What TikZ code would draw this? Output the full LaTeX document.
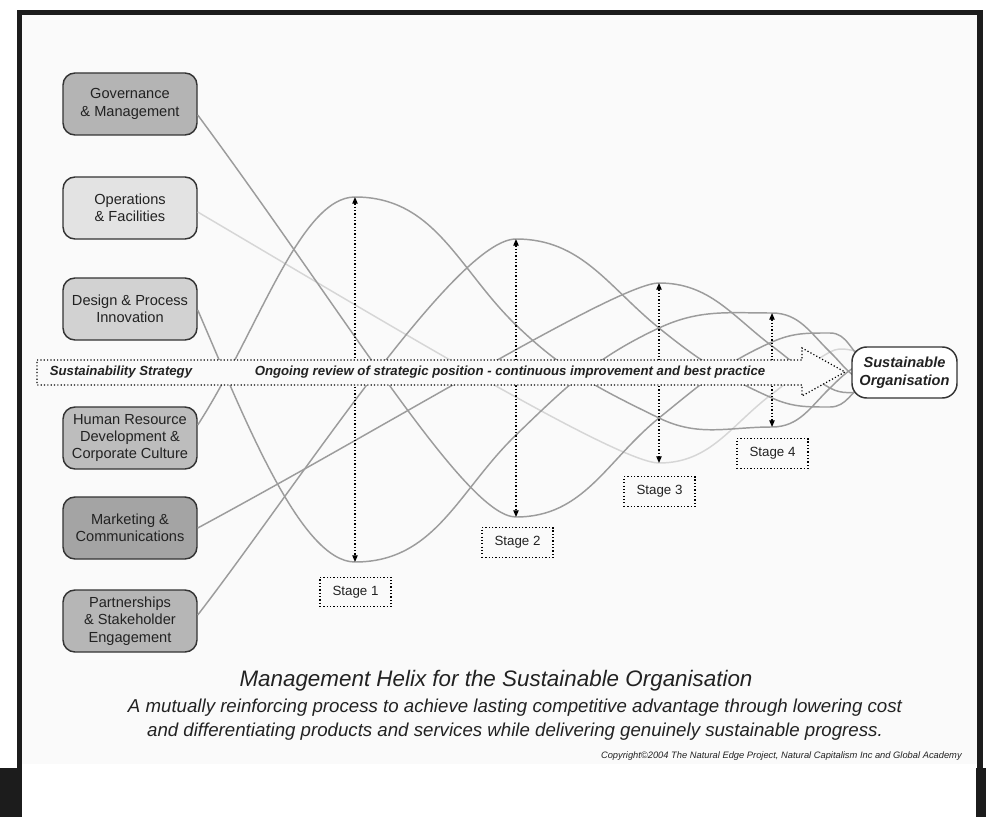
\documentclass[tikz,border=0pt]{standalone}
\usepackage{fontspec}
\setmainfont{Liberation Sans}
\usetikzlibrary{arrows.meta,calc}
\definecolor{framec}{HTML}{1C1C1C}
\definecolor{bgc}{HTML}{FAFAFA}
\definecolor{govc}{HTML}{B4B4B4}
\definecolor{opsc}{HTML}{E3E3E3}
\definecolor{desc}{HTML}{D2D2D2}
\definecolor{hrc}{HTML}{BDBDBD}
\definecolor{mktc}{HTML}{A4A4A4}
\definecolor{partc}{HTML}{B6B6B6}
\definecolor{boxborder}{HTML}{333333}
\definecolor{strandc}{HTML}{9C9C9C}
\definecolor{strandl}{HTML}{D6D6D6}
\definecolor{txt}{HTML}{222222}
\begin{document}
\begin{tikzpicture}[x=0.75pt,y=-0.75pt,
  lbox/.style={draw=boxborder, line width=1.1pt, rounded corners=9pt,
    minimum width=100.5pt, minimum height=46.5pt, align=center, inner sep=1pt,
    text=txt, font=\fontsize{10.95}{13.1}\selectfont},
  strand/.style={draw=strandc, line width=1.1pt},
  lightstrand/.style={draw=strandl, line width=1.1pt},
  dotline/.style={line width=0.9pt, dash pattern=on 0.9pt off 1.6pt},
  stagearrow/.style={dotline, {Triangle[length=5pt,width=4pt]}-{Triangle[length=5pt,width=4pt]}},
  stagebox/.style={draw, dotline, minimum width=53.25pt, minimum height=22pt,
    text=txt, font=\fontsize{10}{11}\selectfont},
  bandtxt/.style={text=txt, font=\fontsize{9.9}{11}\selectfont\bfseries\itshape, inner sep=0pt},
  sobox/.style={draw=boxborder, fill=white, line width=1.1pt, rounded corners=11pt,
    minimum width=78.75pt, minimum height=38.25pt, align=center, inner sep=1pt,
    text=txt, font=\fontsize{10.95}{13.3}\selectfont\bfseries\itshape}]
\useasboundingbox (0,0) rectangle (986,817);
% background and frame
\fill[white] (0,0) rectangle (986,817);
\fill[bgc] (22,15) rectangle (977,764);
\fill[framec] (17,10) rectangle (983,15);
\fill[framec] (17,10) rectangle (22,768);
\fill[framec] (977,10) rectangle (983,768);
\fill[framec] (0,768) rectangle (22,817);
\fill[framec] (976,768) rectangle (986,817);

% left boxes
\node[lbox, fill=govc] (gov) at (130,104) {Governance\\\& Management};
\node[lbox, fill=opsc] (ops) at (130,208) {Operations\\\& Facilities};
\node[lbox, fill=desc] (des) at (130,309) {Design \& Process\\Innovation};
\node[lbox, fill=hrc] (hr) at (130,438) {Human Resource\\Development \&\\Corporate Culture};
\node[lbox, fill=mktc] (mkt) at (130,528) {Marketing \&\\Communications};
\node[lbox, fill=partc] (part) at (130,621) {Partnerships\\\& Stakeholder\\Engagement};

% helix points
\coordinate (h1) at (355,197); \coordinate (h2) at (516,325); \coordinate (h3) at (659,418);
\coordinate (h4) at (772,427); \coordinate (h5) at (830,388); \coordinate (h6) at (866,362);
\coordinate (d1) at (355,562); \coordinate (d2) at (516,435); \coordinate (d3) at (659,328);
\coordinate (d4) at (772,313); \coordinate (d5) at (830,352); \coordinate (d6) at (866,382);
\coordinate (p2) at (516,239); \coordinate (p3) at (659,328); \coordinate (p4) at (772,398);
\coordinate (p5) at (830,407); \coordinate (p6) at (866,382);
\coordinate (g2) at (516,517); \coordinate (g3) at (659,418); \coordinate (g4) at (772,342);
\coordinate (g5) at (830,333); \coordinate (g6) at (866,362);
\coordinate (m3) at (659,283); \coordinate (m4) at (772,346); \coordinate (m5) at (830,388);
\coordinate (m6) at (866,392);
\coordinate (o3) at (659,463); \coordinate (o4) at (772,394); \coordinate (o5) at (830,352);
\coordinate (o6) at (866,352);

% strands
\draw[lightstrand] ($(ops.east)+(0,4)$) .. controls +(200,118) and +(-40,0) .. (o3)
  to[out=0,in=217] (o4) to[out=37,in=209] (o5) to[out=29,in=180] (o6);
\draw[strand] ($(gov.east)+(0,11)$) .. controls +(150,203) and +(-50,0) .. (g2)
  to[out=0,in=219] (g3) to[out=39,in=204] (g4) to[out=24,in=180] (g5) to[out=0,in=150] (g6);
\draw[strand] ($(des.east)+(0,1)$) .. controls +(45,104) and +(-55,0) .. (d1)
  to[out=0,in=224] (d2) to[out=44,in=205] (d3) to[out=25,in=180] (d4)
  to[out=0,in=136] (d5) to[out=-44,in=160] (d6);
\draw[strand] ($(hr.east)+(0,-13)$) .. controls +(60,-93) and +(-55,0) .. (h1)
  to[out=0,in=136] (h2) to[out=-44,in=154] (h3) to[out=-26,in=180] (h4)
  to[out=0,in=224] (h5) to[out=44,in=200] (h6);
\draw[strand] (mkt.east) .. controls +(200,-108) and +(-40,0) .. (m3)
  to[out=0,in=143] (m4) to[out=-37,in=151] (m5) to[out=-29,in=180] (m6);
\draw[strand] ($(part.east)+(0,-6)$) .. controls +(100,-130) and +(-60,0) .. (p2)
  to[out=0,in=141] (p3) to[out=-39,in=156] (p4) to[out=-24,in=180] (p5) to[out=0,in=210] (p6);

% stage arrows
\draw[stagearrow] (h1) -- (d1);
\draw[stagearrow] (p2) -- (g2);
\draw[stagearrow] (m3) -- (o3);
\draw[stagearrow] (d4) -- (h4);

% band arrow
\draw[dotline, fill=bgc] (37,360) -- (802,360) -- (802,348) -- (845,372) -- (802,396)
  -- (802,385) -- (37,385) -- cycle;
\node[bandtxt] (ss) at (121,372.5) {Sustainability Strategy};
\node[bandtxt] (ongo) at (510,372.5) {Ongoing review of strategic position - continuous improvement and best practice};

% target
\node[sobox] (so) at (904.5,372.5) {Sustainable\\Organisation};

% stage boxes
\node[stagebox] (st1) at (355.5,592) {Stage 1};
\node[stagebox] (st2) at (517.5,542.5) {Stage 2};
\node[stagebox] (st3) at (659.5,491.5) {Stage 3};
\node[stagebox] (st4) at (772.5,453.5) {Stage 4};

% titles
\node[text=txt, font=\fontsize{16.8}{20}\selectfont\itshape] (title) at (496,681)
  {Management Helix for the Sustainable Organisation};
\node[text=txt, align=center, font=\fontsize{14}{18}\selectfont\itshape] (sub) at (515,719.5)
  {A mutually reinforcing process to achieve lasting competitive advantage through lowering cost\\
   and differentiating products and services while delivering genuinely sustainable progress.};
\node[text=txt, anchor=east, inner sep=0pt, font=\fontsize{7}{8}\selectfont\itshape] (copy) at (962,756)
  {Copyright\textcopyright2004 The Natural Edge Project, Natural Capitalism Inc and Global Academy};
\end{tikzpicture}
\end{document}
